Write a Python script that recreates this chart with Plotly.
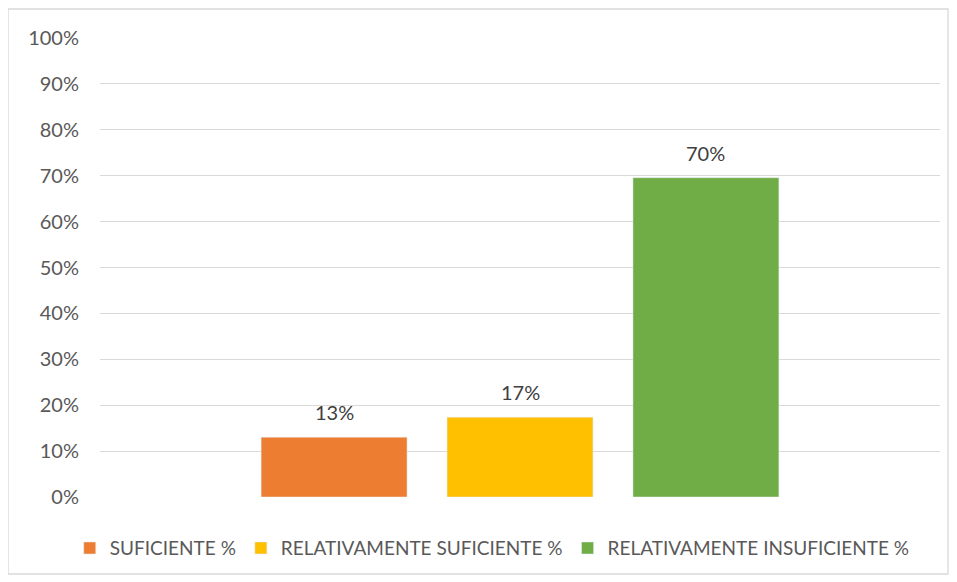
import plotly.graph_objects as go

categories = [""]
series_names = ["SUFICIENTE %", "RELATIVAMENTE SUFICIENTE %", "RELATIVAMENTE INSUFICIENTE %"]
series_values = [[0.1304], [0.1739], [0.6957]]
series_colors = ["#ED7D31", "#FFC000", "#70AD47"]
tick_vals = [i / 10 for i in range(11)]
tick_text = [f"{i*10}%" for i in range(11)]

font_family = "Lato, Carlito, Calibri, sans-serif"
txt_color = "#595959"
bargap = 0.336
nser = len(series_names)

fig = go.Figure()
annotations = []
slot = (1 - bargap) / nser
for i, (name, vals, col) in enumerate(zip(series_names, series_values, series_colors)):
    fig.add_trace(go.Bar(
        x=categories, y=vals, name=name, marker_color=col,
    ))
    for ci, v in enumerate(vals):
        annotations.append(dict(
            x=ci + (i - (nser - 1) / 2) * slot, y=v, xref="x", yref="y",
            text=f"{round(v*100)}%", showarrow=False, yshift=25,
            font=dict(size=20, color="#404040", family=font_family),
        ))

fig.update_layout(
    width=957, height=582,
    margin=dict(l=92, r=25, t=30, b=93, autoexpand=False),
    paper_bgcolor="white", plot_bgcolor="white",
    barmode="group", bargap=bargap, bargroupgap=0.215,
    font=dict(family=font_family, size=20, color=txt_color),
    showlegend=True,
    legend=dict(orientation="h", xref="container", x=0.506, xanchor="center",
                y=-0.07, yanchor="top",
                font=dict(size=19, color=txt_color), itemwidth=30, traceorder="normal"),
    xaxis=dict(showticklabels=False, showgrid=False, zeroline=False, showline=False,
               range=[-0.5, 0.5]),
    yaxis=dict(range=[0, 1], tickvals=tick_vals, ticktext=tick_text,
               showgrid=True, gridcolor="#D9D9D9", gridwidth=1.3,
               zeroline=False, showline=False, ticks="", ticklabelstandoff=20,
               tickfont=dict(size=20, color=txt_color)),
    annotations=annotations,
    shapes=[dict(type="rect", xref="paper", yref="paper",
                 x0=-0.1095, x1=1.0095, y0=-0.1678, y1=1.0632,
                 line=dict(color="#D9D9D9", width=1.3), fillcolor="rgba(0,0,0,0)")],
)

fig.write_html("out.html")
